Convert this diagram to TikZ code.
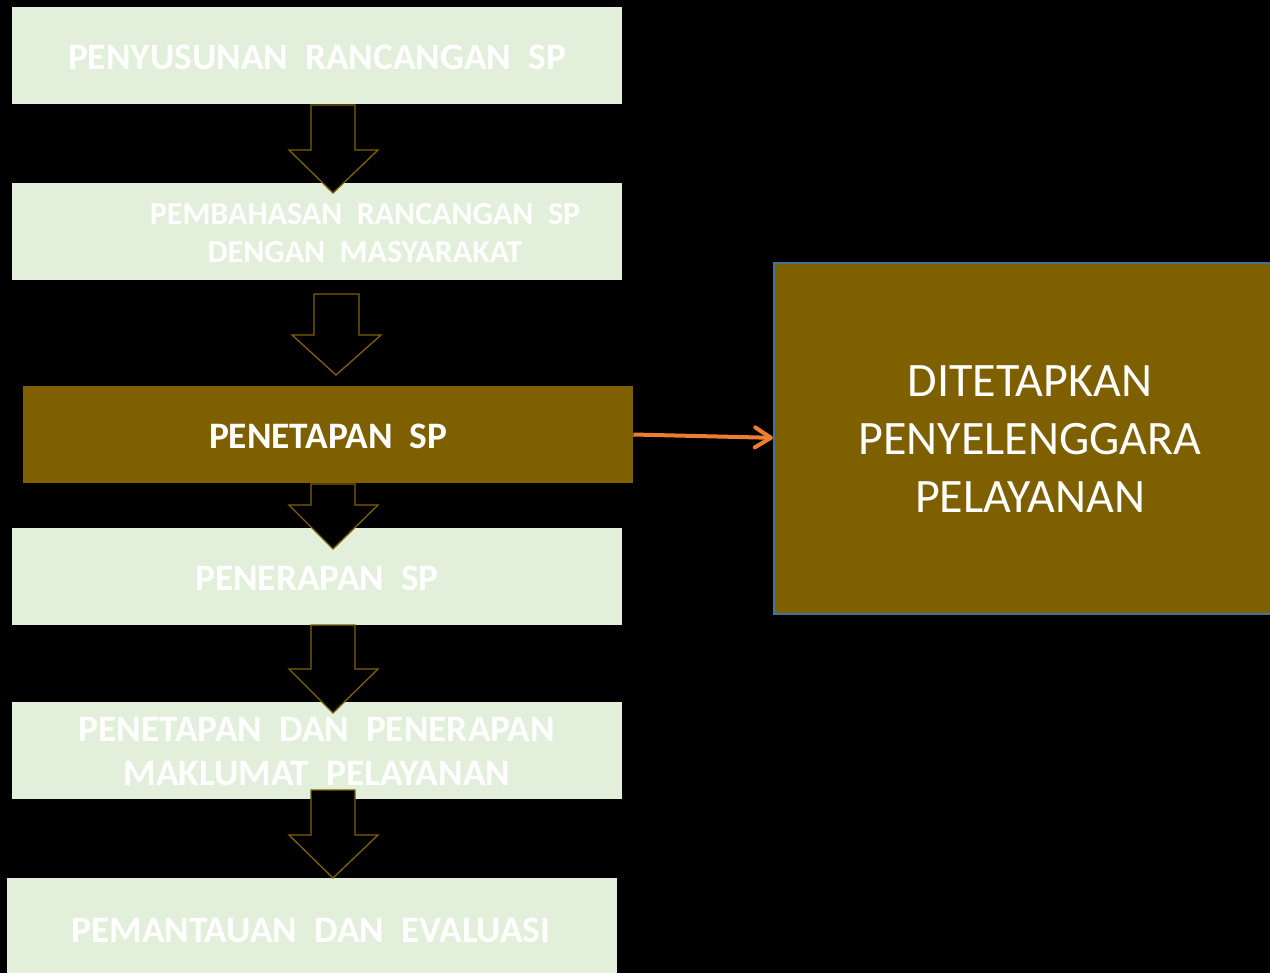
\documentclass[tikz,border=0pt]{standalone}
\usepackage{fontspec}
\setmainfont{Carlito}
\usetikzlibrary{arrows.meta}
\definecolor{boxgreen}{HTML}{E2EFDA}
\definecolor{olive}{HTML}{7F6000}
\definecolor{edgeblue}{HTML}{41719C}
\definecolor{connorange}{HTML}{ED7D31}
\tikzset{
  stagebox/.style={rectangle, fill=boxgreen, minimum width=610*0.75pt, minimum height=97*0.75pt, inner sep=0pt},
  stagetext/.style={text=white, font=\bfseries\fontsize{#1}{#1}\selectfont, align=center, inner sep=0pt},
  keybox/.style={rectangle, fill=olive, minimum width=610*0.75pt, minimum height=97*0.75pt, inner sep=0pt},
  resultbox/.style={rectangle, fill=olive, draw=edgeblue, line width=1.5pt},
  blockarrow/.style={fill=black, draw=olive, line width=1pt, line join=miter},
  linkarrow/.style={draw=connorange, line width=3pt, -{Straight Barb[length=12pt,width=15pt,line width=3pt,round]}},
}
\begin{document}
\begin{tikzpicture}[x=0.75pt,y=-0.75pt]
\fill[black] (0,0) rectangle (1270,973);
\useasboundingbox (0,0) rectangle (1270,973);
% result box (clipped at right edge)
\begin{scope}
\clip (0,0) rectangle (1270,973);
\node[resultbox, minimum width=510*0.75pt, minimum height=351*0.75pt, anchor=north west] (res) at (773,262) {};
\end{scope}
\node[text=white, font=\fontsize{36}{43.5}\selectfont, align=center, inner sep=0pt] (restext) at (1030,439) {DITETAPKAN\\PENYELENGGARA\\PELAYANAN};
% stage boxes
\node[stagebox] (b1) at (317,55.5) {};
\node[stagebox] (b2) at (317,231.5) {};
\node[keybox] (b3) at (328,434.5) {};
\node[stagebox] (b4) at (317,576.5) {};
\node[stagebox] (b5) at (317,750.5) {};
\node[stagebox, minimum height=100*0.75pt] (b6) at (312,928) {};
% block arrows
\draw[blockarrow] (311,105) -- (355,105) -- (355,150) -- (378,150) -- (333,193) -- (289,150) -- (311,150) -- cycle;
\draw[blockarrow] (314,294) -- (359,294) -- (359,335) -- (381,335) -- (336,375) -- (292,335) -- (314,335) -- cycle;
\draw[blockarrow] (311,484) -- (355,484) -- (355,505) -- (378,505) -- (333,549) -- (289,505) -- (311,505) -- cycle;
\draw[blockarrow] (311,625) -- (355,625) -- (355,669) -- (378,669) -- (333,713) -- (289,669) -- (311,669) -- cycle;
\draw[blockarrow] (311,790) -- (355,790) -- (355,835) -- (378,835) -- (333,878) -- (289,835) -- (311,835) -- cycle;
% texts
\node[stagetext=28] (t1) at (317,57) {PENYUSUNAN\ \ RANCANGAN\ \ SP};
\node[stagetext=24, font=\bfseries\fontsize{24}{29}\selectfont] (t2) at (365,233) {PEMBAHASAN\ \ RANCANGAN\ \ SP\\DENGAN\ \ MASYARAKAT};
\node[stagetext=28] (t3) at (328,436) {PENETAPAN\ \ SP};
\node[stagetext=28] (t4) at (317,578) {PENERAPAN\ \ SP};
\node[stagetext=28, font=\bfseries\fontsize{28}{33}\selectfont] (t5) at (317,752) {PENETAPAN\ \ DAN\ \ PENERAPAN\\MAKLUMAT\ \ PELAYANAN};
\node[stagetext=28] (t6) at (311,930) {PEMANTAUAN\ \ DAN\ \ EVALUASI};
% connector
\draw[linkarrow] (b3.east) -- ([yshift=-2.5pt]res.west |- b3.east);
\end{tikzpicture}
\end{document}
